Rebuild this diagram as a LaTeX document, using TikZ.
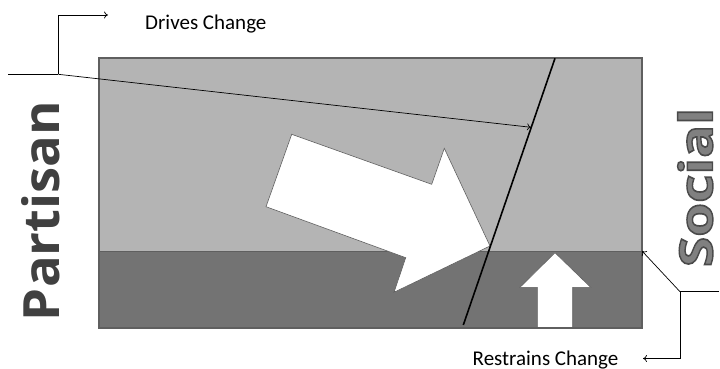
\documentclass[tikz,border=0pt]{standalone}
\usepackage{fontspec}
\usepackage{graphicx}
\setmainfont{Carlito}
\newfontfamily\bigsans{Open Sans}[UprightFont=* Bold]
\usetikzlibrary{arrows.meta}
\definecolor{upperfill}{HTML}{B4B4B4}
\definecolor{lowerfill}{HTML}{737373}
\definecolor{edgegray}{HTML}{5F5F5F}
\definecolor{partisangray}{HTML}{404040}
\definecolor{socialgray}{HTML}{808080}
% stroked-and-filled text for the outlined label
\newcommand{\outlinedtext}[1]{%
  \special{pdf:literal direct 2 Tr 1.4 w 0.29 0.29 0.29 RG}#1\special{pdf:literal direct 0 Tr}}
\tikzset{
  callout/.style={draw=black, line width=0.7pt, -{To[length=4pt,width=7pt]}},
  plainline/.style={draw=black, line width=0.7pt},
  whitearrow/.style={fill=white, draw=edgegray, line width=0.6pt, line join=miter},
  sidelabel/.style={inner sep=0pt, rotate=90, anchor=base},
  caption/.style={inner sep=0pt, font=\fontsize{21}{25}\selectfont}
}
\begin{document}
\begin{tikzpicture}[x=1pt, y=-1pt]
\useasboundingbox (0,0) rectangle (720,369);

% two bands of the field
\coordinate (nw) at (99,58);
\coordinate (se) at (642,328);
\coordinate (mw) at (99,251);
\coordinate (me) at (642,251);
\fill[upperfill] (nw) rectangle (me);
\fill[lowerfill] (mw) rectangle (se);
\draw[edgegray, line width=0.8pt] (mw) -- (me);

% large white arrow
\filldraw[whitearrow] (291.7,134.3) -- (431.7,184.3) -- (444.3,148.3) -- (490,246)
  -- (394,292.3) -- (405.7,257.7) -- (266,206.7) -- cycle;

% small upward arrow
\filldraw[whitearrow] (555,252.7) -- (590.7,287.3) -- (572.7,287.3) -- (572.7,327.4)
  -- (537.3,327.4) -- (537.3,287.3) -- (520,287.3) -- cycle;

\draw[edgegray, line width=1.1pt] (nw) rectangle (se);

% sloped boundary
\coordinate (bt) at (555,58.3);
\coordinate (bb) at (463.3,325);
\draw[black, line width=1.6pt] (bt) -- (bb);

% Drives Change callout
\node[caption, anchor=base west] (drives) at (145,29.5) {Drives Change};
\coordinate (dstart) at (8,74.3);
\coordinate (dknee) at (58.3,74.3);
\coordinate (dtop) at (108,15);
\coordinate (dhit) at (531,127.3);
\draw[plainline] (dstart) -- (dknee);
\draw[callout] (dknee) |- (dtop);
\draw[callout] (dknee) -- (dhit);

% Restrains Change callout
\node[caption, anchor=base west] (restrains) at (472.5,365) {Restrains Change};
\coordinate (rstart) at (719,291.7);
\coordinate (rknee) at (680,291.7);
\coordinate (rend) at (643,358.5);
\draw[plainline] (rstart) -- (rknee);
\draw[callout] (rknee) -- (me);
\draw[callout] (rknee) |- (rend);

% side labels
\node[sidelabel, text=partisangray] (partisan) at (59,211)
  {\resizebox{220pt}{\height}{\bigsans\fontsize{50}{60}\selectfont Partisan}};
\node[sidelabel, text=socialgray] (social) at (712.5,187.5)
  {\resizebox{159pt}{\height}{\bigsans\fontsize{46}{55}\selectfont\outlinedtext{Social}}};
\end{tikzpicture}
\end{document}
